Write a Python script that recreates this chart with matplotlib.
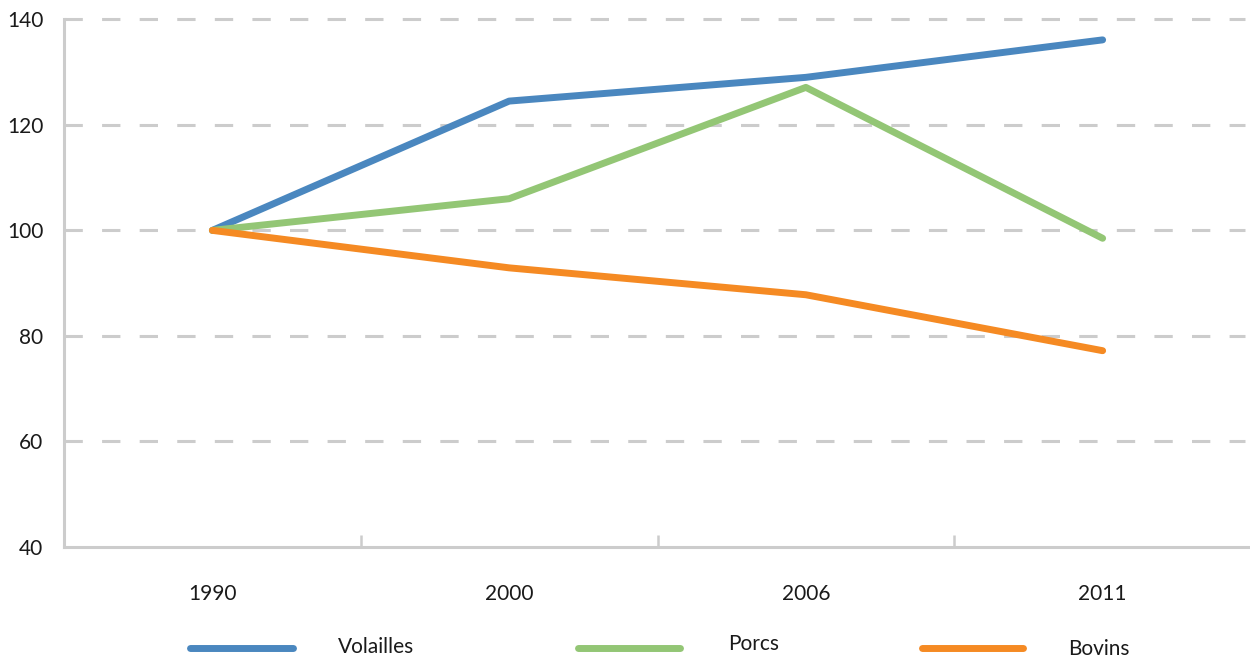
import matplotlib.pyplot as plt
from matplotlib.lines import Line2D

plt.rcParams["font.family"] = ["Lato", "DejaVu Sans"]

years = ["1990", "2000", "2006", "2011"]
volailles = [100, 124.5, 129.0, 136.1]
porcs = [100, 106.0, 127.1, 98.5]
bovins = [100, 92.9, 87.8, 77.2]

series = [("Volailles", volailles, "#4a87bf"),
          ("Porcs", porcs, "#93c675"),
          ("Bovins", bovins, "#f58a23")]

GRID = "#cccccc"
TEXT = "#1a1a1a"

fig = plt.figure(figsize=(12.5, 6.61), dpi=100)
ax = fig.add_axes([64 / 1250, 114 / 661, 1187 / 1250, (547 - 19.3) / 661])

x = range(len(years))
for name, vals, color in series:
    ax.plot(x, vals, color=color, lw=5.0, solid_capstyle="round",
            solid_joinstyle="round", zorder=3)

ax.set_xlim(-0.5, len(years) - 0.5)
ax.set_ylim(40, 140)
ax.set_yticks([40, 60, 80, 100, 120, 140])

# dashed horizontal guides
for yv in [60, 80, 100, 120, 140]:
    ax.axhline(yv, color=GRID, lw=2.2, linestyle=(0, (6.0, 6.3)),
               dash_capstyle="butt", clip_on=False, zorder=1,
               xmax=0.995)

for side in ["top", "right"]:
    ax.spines[side].set_visible(False)
for side in ["left", "bottom"]:
    ax.spines[side].set_color(GRID)
    ax.spines[side].set_linewidth(2.2)

ax.set_xticks(list(x))
ax.set_xticklabels(years)
ax.set_xticks([0.5, 1.5, 2.5], minor=True)
ax.tick_params(axis="x", which="major", length=0, pad=27, labelsize=15,
               labelcolor=TEXT)
ax.tick_params(axis="x", which="minor", direction="in", length=8.6,
               width=1.8, color=GRID)
ax.tick_params(axis="y", length=0, pad=15, labelsize=15, labelcolor=TEXT)

# legend drawn below the axis
legend_pos = [(190, 293, 338, 646.7), (578, 680, 728, 644.0),
              (922, 1023, 1068, 649.3)]
for (name, vals, color), (x0, x1, tx, ty) in zip(series, legend_pos):
    fig.add_artist(Line2D([x0 / 1250, x1 / 1250],
                          [(661 - 648.3) / 661, (661 - 648.3) / 661],
                          transform=fig.transFigure, color=color, lw=5.0,
                          solid_capstyle="round"))
    fig.text(tx / 1250, (661 - ty) / 661, name, ha="left", va="center",
             fontsize=15, color=TEXT)

fig.savefig("out.png", dpi=100)
